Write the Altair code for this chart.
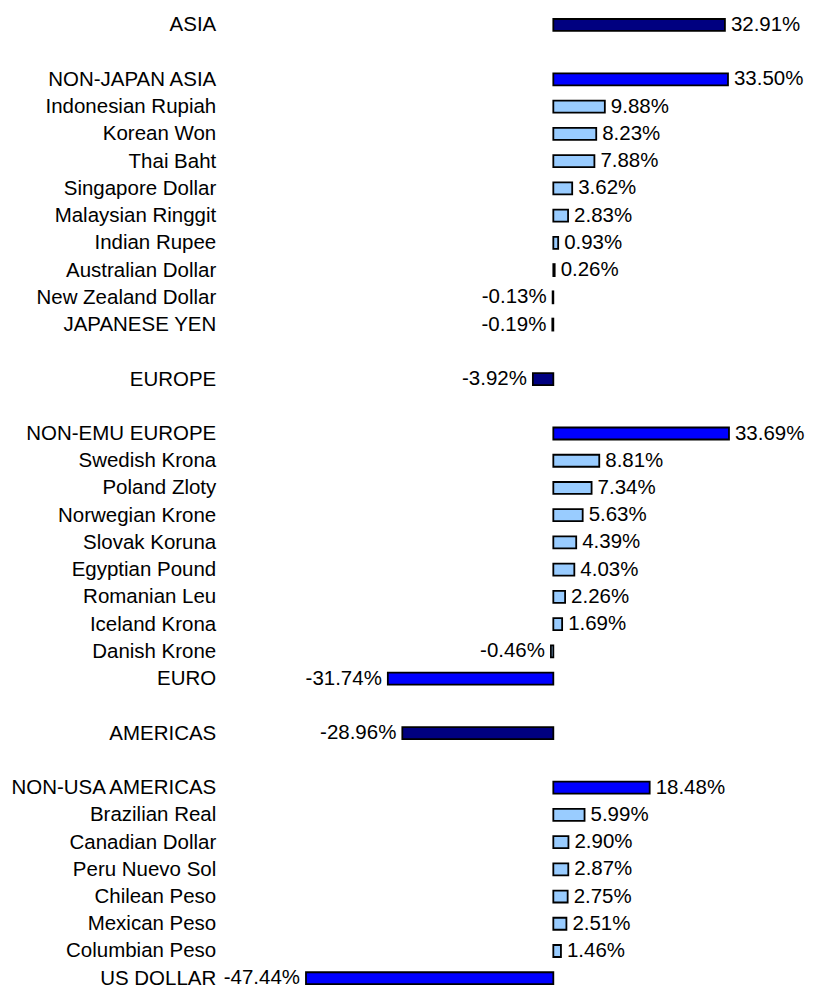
import altair as alt
import pandas as pd

labels = ["ASIA", "", "NON-JAPAN ASIA", "Indonesian Rupiah", "Korean Won", "Thai Baht",
          "Singapore Dollar", "Malaysian Ringgit", "Indian Rupee", "Australian Dollar",
          "New Zealand Dollar", "JAPANESE YEN", "", "EUROPE", "", "NON-EMU EUROPE",
          "Swedish Krona", "Poland Zloty", "Norwegian Krone", "Slovak Koruna",
          "Egyptian Pound", "Romanian Leu", "Iceland Krona", "Danish Krone", "EURO", "",
          "AMERICAS", "", "NON-USA AMERICAS", "Brazilian Real", "Canadian Dollar",
          "Peru Nuevo Sol", "Chilean Peso", "Mexican Peso", "Columbian Peso", "US DOLLAR"]
values = [32.91, None, 33.50, 9.88, 8.23, 7.88, 3.62, 2.83, 0.93, 0.26, -0.13, -0.19, None,
          -3.92, None, 33.69, 8.81, 7.34, 5.63, 4.39, 4.03, 2.26, 1.69, -0.46, -31.74, None,
          -28.96, None, 18.48, 5.99, 2.90, 2.87, 2.75, 2.51, 1.46, -47.44]
levels = ["region", "", "sub", "ccy", "ccy", "ccy", "ccy", "ccy", "ccy", "ccy", "ccy", "sub", "",
          "region", "", "sub", "ccy", "ccy", "ccy", "ccy", "ccy", "ccy", "ccy", "ccy", "sub", "",
          "region", "", "sub", "ccy", "ccy", "ccy", "ccy", "ccy", "ccy", "sub"]

rows = [
    {"row": i, "name": labels[i], "value": values[i], "level": levels[i]}
    for i in range(len(labels)) if values[i] is not None
]
df = pd.DataFrame(rows)

FONT = "Liberation Sans"
FS = 20.5
label_array = "[" + ",".join("'" + l + "'" for l in labels) + "]"

y_enc = alt.Y(
    "row:Q",
    scale=alt.Scale(domain=[-0.4174, 35.2266], reverse=True, nice=False, zero=False),
    axis=alt.Axis(
        values=list(range(len(labels))),
        labelExpr=label_array + "[datum.value]",
        title=None, grid=False, domain=False, ticks=False, tickSize=0,
        labelPadding=5, labelFontSize=FS, labelFont=FONT, labelColor="black",
        labelOverlap=False, labelFlush=False, labelBound=False, labelLimit=400,
        minExtent=212, maxExtent=212,
    ),
)
x_enc = alt.X("value:Q", scale=alt.Scale(domain=[-63.79, 50.19], nice=False, zero=False), axis=None)

base = alt.Chart(df)

bars = base.mark_bar(orient="horizontal", size=12, stroke="black", strokeWidth=1.8).encode(
    x=x_enc,
    x2=alt.datum(0),
    y=y_enc,
    color=alt.Color(
        "level:N",
        scale=alt.Scale(domain=["region", "sub", "ccy"], range=["#000080", "#0000FF", "#99CCFF"]),
        legend=None,
    ),
)

text_base = base.transform_calculate(
    txt="(datum.value < 0 ? '-' : '') + format(abs(datum.value), '.2f') + '%'"
)

pos_text = text_base.transform_filter("datum.value >= 0").mark_text(
    align="left", baseline="middle", dx=6, fontSize=FS, font=FONT, color="black"
).encode(x=x_enc, y=y_enc, text="txt:N")

neg_text = text_base.transform_filter("datum.value < 0").mark_text(
    align="right", baseline="middle", dx=-6, fontSize=FS, font=FONT, color="black"
).encode(x=x_enc, y=y_enc, text="txt:N")

chart = alt.layer(bars, pos_text, neg_text).properties(
    width=595, height=982, padding=0, background="white"
).configure_view(stroke=None).configure_axis(labelOverlap=False)

chart.save("out.html", embed_options={"renderer": "svg", "actions": False})
